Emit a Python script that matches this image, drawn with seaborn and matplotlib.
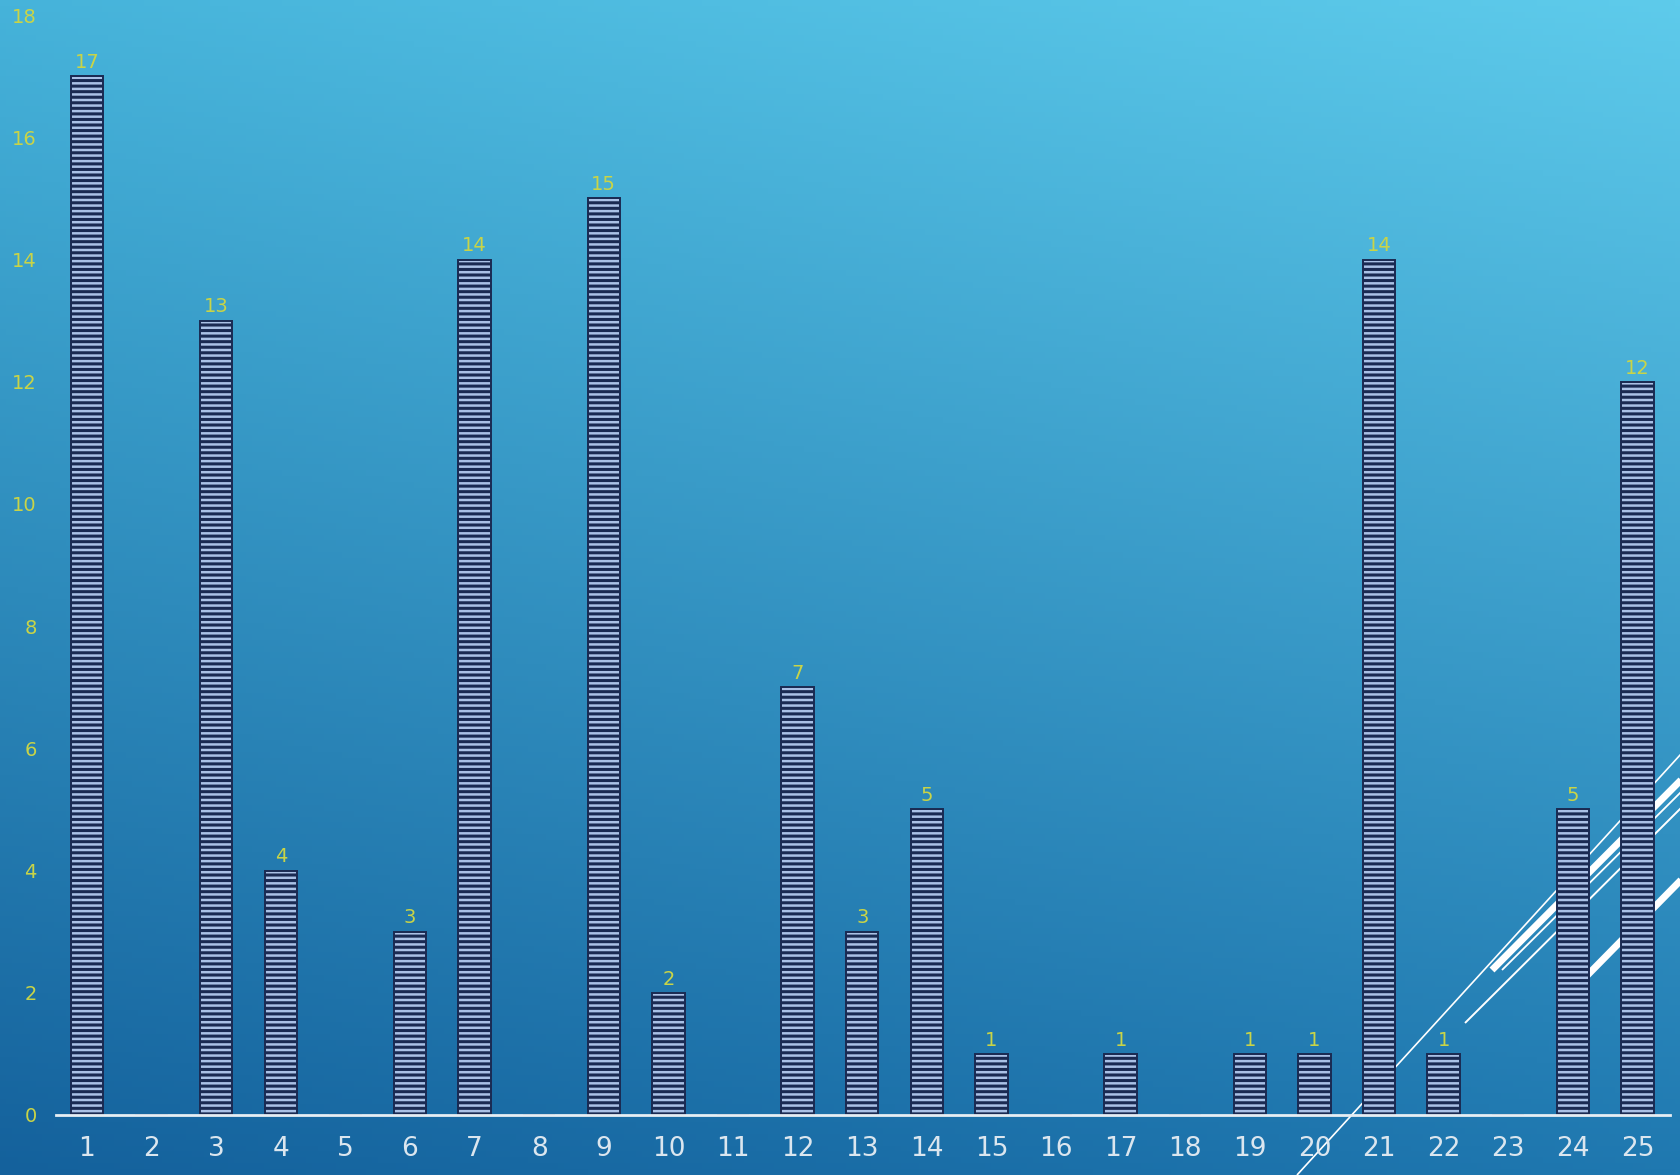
"""
Striped bar chart of counts per item on a blue gradient slide background.
"""

import numpy as np
import pandas as pd
import matplotlib.pyplot as plt
import seaborn as sns
from matplotlib.colors import to_rgb

# data
items = list(range(1, 26))
counts = [17, 0, 13, 4, 0, 3, 14, 0, 15, 2, 0, 7, 3, 5, 1, 0, 1, 0, 1, 1, 14, 1, 0, 5, 12]
y_ticks = list(range(0, 19, 2))

# colours
bg_top_left = "#46b3da"
bg_top_right = "#5ecbeb"
bg_bottom_left = "#14619c"
bg_bottom_right = "#1f78b0"
stripe_light = "#a0bff0"
stripe_dark = "#1a2a52"
label_yellow = "#c9d447"
tick_white = "#dbe6ef"


def gradient_background(fig):
    """Paint a bilinear gradient over the whole figure."""
    bg = fig.add_axes([0, 0, 1, 1], zorder=-10)
    h, w = 200, 280
    yy, xx = np.mgrid[0:1:h * 1j, 0:1:w * 1j]
    tl, tr = np.array(to_rgb(bg_top_left)), np.array(to_rgb(bg_top_right))
    bl, br = np.array(to_rgb(bg_bottom_left)), np.array(to_rgb(bg_bottom_right))
    top = tl[None, None, :] * (1 - xx[..., None]) + tr[None, None, :] * xx[..., None]
    bottom = bl[None, None, :] * (1 - xx[..., None]) + br[None, None, :] * xx[..., None]
    img = top * (1 - yy[..., None]) + bottom * yy[..., None]
    bg.imshow(img, aspect="auto", extent=[0, 1, 0, 1], origin="upper")
    bg.set_xlim(0, 1)
    bg.set_ylim(0, 1)
    bg.axis("off")

    # decorative white diagonal strokes, given in pixels from the top left
    W, H = 1681, 1175
    strokes = [
        ((1297, 1175), (1681, 754), 1.2),
        ((1492, 970), (1681, 780), 5.0),
        ((1502, 970), (1681, 792), 1.3),
        ((1465, 1023), (1681, 808), 1.4),
        ((1565, 998), (1681, 880), 5.0),
    ]
    for (x0, y0), (x1, y1), lw in strokes:
        bg.plot([x0 / W, x1 / W], [1 - y0 / H, 1 - y1 / H], color="white", lw=lw,
                solid_capstyle="butt")
    return bg


def main():
    sns.set_theme(style="white")
    plt.rcParams["hatch.linewidth"] = 2.2
    plt.rcParams["font.family"] = ["DejaVu Sans"]

    fig = plt.figure(figsize=(16.81, 11.75), dpi=100)
    gradient_background(fig)

    ax = fig.add_axes([0.0333, 0.0511, 0.960, 0.936])
    ax.patch.set_alpha(0)

    df = pd.DataFrame({"item": items, "count": counts})
    sns.barplot(
        data=df, x="item", y="count", native_scale=True, width=0.5,
        color=stripe_light, edgecolor=stripe_dark, linewidth=1.4,
        hatch="---", ax=ax,
    )

    labels = [str(c) if c > 0 else "" for c in counts]
    ax.bar_label(ax.containers[0], labels=labels, padding=3, color=label_yellow,
                 fontsize=14, fontweight="medium")

    ax.set_xlim(0.52, 25.5)
    ax.set_ylim(0, 18)
    ax.set_xticks(items)
    ax.set_xticklabels([str(i) for i in items], color=tick_white, fontsize=19)
    ax.set_yticks(y_ticks)
    ax.set_yticklabels([str(t) for t in y_ticks], color=label_yellow, fontsize=14)
    ax.tick_params(axis="x", length=0, pad=15)
    ax.tick_params(axis="y", length=0, pad=14)
    ax.set_xlabel("")
    ax.set_ylabel("")

    for side in ["top", "right", "left"]:
        ax.spines[side].set_visible(False)
    ax.spines["bottom"].set_color("#e6eef4")
    ax.spines["bottom"].set_linewidth(2)

    fig.savefig("out.png", dpi=100)


if __name__ == "__main__":
    main()
